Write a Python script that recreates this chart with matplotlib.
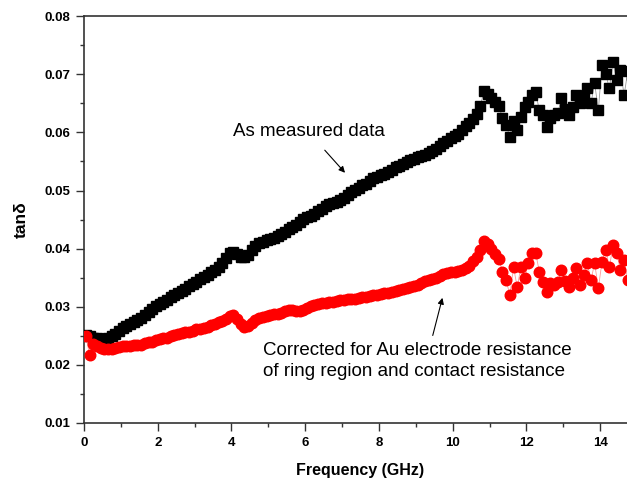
import matplotlib
matplotlib.use("Agg")
import matplotlib.pyplot as plt
from matplotlib.ticker import MultipleLocator

plt.rcParams["font.family"] = ["Liberation Sans", "DejaVu Sans"]

# frequency points (GHz)
freq = [0.05, 0.15, 0.25, 0.35, 0.45, 0.55, 0.65, 0.75, 0.85, 0.95,
        1.05, 1.15, 1.25, 1.35, 1.45, 1.55, 1.65, 1.75, 1.85, 1.95,
        2.05, 2.15, 2.25, 2.35, 2.45, 2.55, 2.65, 2.75, 2.85, 2.95,
        3.05, 3.15, 3.25, 3.35, 3.45, 3.55, 3.65, 3.75, 3.85, 3.95,
        4.05, 4.15, 4.25, 4.35, 4.45, 4.55, 4.65, 4.75, 4.85, 4.95,
        5.05, 5.15, 5.25, 5.35, 5.45, 5.55, 5.65, 5.75, 5.85, 5.95,
        6.05, 6.15, 6.25, 6.35, 6.45, 6.55, 6.65, 6.75, 6.85, 6.95,
        7.05, 7.15, 7.25, 7.35, 7.45, 7.55, 7.65, 7.75, 7.85, 7.95,
        8.05, 8.15, 8.25, 8.35, 8.45, 8.55, 8.65, 8.75, 8.85, 8.95,
        9.05, 9.15, 9.25, 9.35, 9.45, 9.55, 9.65, 9.75, 9.85, 9.95,
        10.05, 10.15, 10.25, 10.35, 10.45, 10.55, 10.65, 10.75, 10.85, 10.95,
        11.05, 11.15, 11.25, 11.35, 11.45, 11.55, 11.65, 11.75, 11.85, 11.95,
        12.05, 12.15, 12.25, 12.35, 12.45, 12.55, 12.65, 12.75, 12.85, 12.95,
        13.05, 13.15, 13.25, 13.35, 13.45, 13.55, 13.65, 13.75, 13.85, 13.95,
        14.05, 14.15, 14.25, 14.35, 14.45, 14.55, 14.65, 14.75, 14.85, 14.95]

# tan delta, as measured
tan_measured = [0.0252, 0.0249, 0.0247, 0.0246, 0.0245, 0.0245, 0.0247, 0.0250, 0.0254, 0.0258,
                0.0263, 0.0267, 0.0270, 0.0273, 0.0277, 0.0281, 0.0286, 0.0291, 0.0296, 0.0301,
                0.0305, 0.0309, 0.0312, 0.0316, 0.0320, 0.0323, 0.0327, 0.0331, 0.0335, 0.0339,
                0.0343, 0.0347, 0.0351, 0.0355, 0.0359, 0.0364, 0.0369, 0.0376, 0.0384, 0.0393,
                0.0395, 0.0391, 0.0386, 0.0385, 0.0389, 0.0398, 0.0404, 0.0409, 0.0412, 0.0415,
                0.0417, 0.0419, 0.0422, 0.0425, 0.0429, 0.0434, 0.0437, 0.0441, 0.0446, 0.0451,
                0.0454, 0.0456, 0.0459, 0.0465, 0.0469, 0.0473, 0.0476, 0.0478, 0.0480, 0.0484,
                0.0488, 0.0492, 0.0497, 0.0501, 0.0505, 0.0509, 0.0512, 0.0516, 0.0521, 0.0524,
                0.0526, 0.0528, 0.0532, 0.0536, 0.0540, 0.0543, 0.0546, 0.0549, 0.0552, 0.0555,
                0.0557, 0.0560, 0.0562, 0.0565, 0.0568, 0.0572, 0.0576, 0.0581, 0.0585, 0.0590,
                0.0594, 0.0598, 0.0605, 0.0611, 0.0617, 0.0623, 0.0632, 0.0645, 0.0672, 0.0666,
                0.0660, 0.0652, 0.0646, 0.0625, 0.0613, 0.0592, 0.0620, 0.0604, 0.0626, 0.0643,
                0.0652, 0.0664, 0.0669, 0.0638, 0.0630, 0.0609, 0.0625, 0.0630, 0.0633, 0.0659,
                0.0640, 0.0630, 0.0643, 0.0664, 0.0650, 0.0659, 0.0676, 0.0650, 0.0685, 0.0638,
                0.0716, 0.0700, 0.0676, 0.0721, 0.0690, 0.0707, 0.0664, 0.0706, 0.0698, 0.0702]

# tan delta, corrected for electrode and contact resistance
tan_corrected = [0.0250, 0.0217, 0.0236, 0.0233, 0.0229, 0.0228, 0.0228, 0.0228, 0.0229, 0.0231,
                 0.0232, 0.0233, 0.0233, 0.0234, 0.0234, 0.0235, 0.0237, 0.0239, 0.0240, 0.0242,
                 0.0244, 0.0246, 0.0247, 0.0249, 0.0251, 0.0253, 0.0255, 0.0256, 0.0257, 0.0259,
                 0.0261, 0.0262, 0.0264, 0.0266, 0.0269, 0.0271, 0.0273, 0.0276, 0.0279, 0.0284,
                 0.0285, 0.0279, 0.0270, 0.0265, 0.0267, 0.0272, 0.0277, 0.0280, 0.0282, 0.0284,
                 0.0285, 0.0287, 0.0288, 0.0289, 0.0292, 0.0295, 0.0295, 0.0292, 0.0292, 0.0294,
                 0.0298, 0.0301, 0.0303, 0.0305, 0.0306, 0.0307, 0.0308, 0.0309, 0.0310, 0.0311,
                 0.0312, 0.0313, 0.0314, 0.0314, 0.0315, 0.0317, 0.0317, 0.0318, 0.0320, 0.0321,
                 0.0322, 0.0324, 0.0324, 0.0325, 0.0327, 0.0329, 0.0331, 0.0333, 0.0334, 0.0336,
                 0.0338, 0.0341, 0.0344, 0.0346, 0.0348, 0.0350, 0.0353, 0.0356, 0.0358, 0.0359,
                 0.0360, 0.0362, 0.0364, 0.0366, 0.0370, 0.0378, 0.0386, 0.0398, 0.0414, 0.0408,
                 0.0400, 0.0390, 0.0383, 0.0360, 0.0346, 0.0320, 0.0368, 0.0334, 0.0368, 0.0349,
                 0.0375, 0.0392, 0.0393, 0.0360, 0.0342, 0.0325, 0.0341, 0.0338, 0.0342, 0.0363,
                 0.0344, 0.0334, 0.0349, 0.0367, 0.0337, 0.0355, 0.0375, 0.0346, 0.0375, 0.0332,
                 0.0377, 0.0398, 0.0368, 0.0406, 0.0392, 0.0363, 0.0380, 0.0346, 0.0375, 0.0360]

fig = plt.figure(figsize=(6.27, 4.91), dpi=100)
# axes run past the right edge: the original figure is cropped there
ax = fig.add_axes([0.134, 0.1385, 0.882, 0.8285])

ax.plot(freq, tan_measured, color="#999999", lw=0.6, marker="s", ms=7,
        mfc="black", mec="black", zorder=3)
ax.plot(freq, tan_corrected, color="#ff9999", lw=0.6, marker="o", ms=7.6,
        mfc="red", mec="red", zorder=3)

ax.set_xlim(0, 15)
ax.set_ylim(0.01, 0.08)
ax.xaxis.set_major_locator(MultipleLocator(2))
ax.xaxis.set_minor_locator(MultipleLocator(1))
ax.yaxis.set_major_locator(MultipleLocator(0.01))
ax.yaxis.set_minor_locator(MultipleLocator(0.005))
ax.yaxis.set_major_formatter(plt.FormatStrFormatter("%.2f"))

for side in ["left", "bottom", "top"]:
    ax.spines[side].set_linewidth(1.2)
    ax.spines[side].set_color("#333333")
ax.spines["right"].set_visible(False)

ax.tick_params(which="both", direction="out", top=False, right=False,
               color="#333333", width=1.0)
ax.tick_params(which="major", length=6, labelsize=9.5, pad=4)
ax.tick_params(which="minor", length=3)
for lab in ax.get_xticklabels() + ax.get_yticklabels():
    lab.set_fontweight("bold")

ax.set_xlabel("Frequency (GHz)", fontsize=11.5, fontweight="bold", labelpad=10)
ax.set_ylabel("tanδ", fontsize=12.5, fontweight="bold", labelpad=11)

ax.annotate("", xy=(7.13, 0.0527), xytext=(6.48, 0.0573),
            arrowprops=dict(arrowstyle="-|>", color="black", lw=0.8, mutation_scale=9))
ax.text(4.04, 0.0602, "As measured data", fontsize=13.5, va="center", ha="left")

ax.annotate("", xy=(9.74, 0.0320), xytext=(9.44, 0.0246),
            arrowprops=dict(arrowstyle="-|>", color="black", lw=0.8, mutation_scale=9))
ax.text(4.86, 0.0206, "Corrected for Au electrode resistance\nof ring region and contact resistance",
        fontsize=13.5, va="center", ha="left", linespacing=1.3)

fig.savefig("out.png", dpi=100)
